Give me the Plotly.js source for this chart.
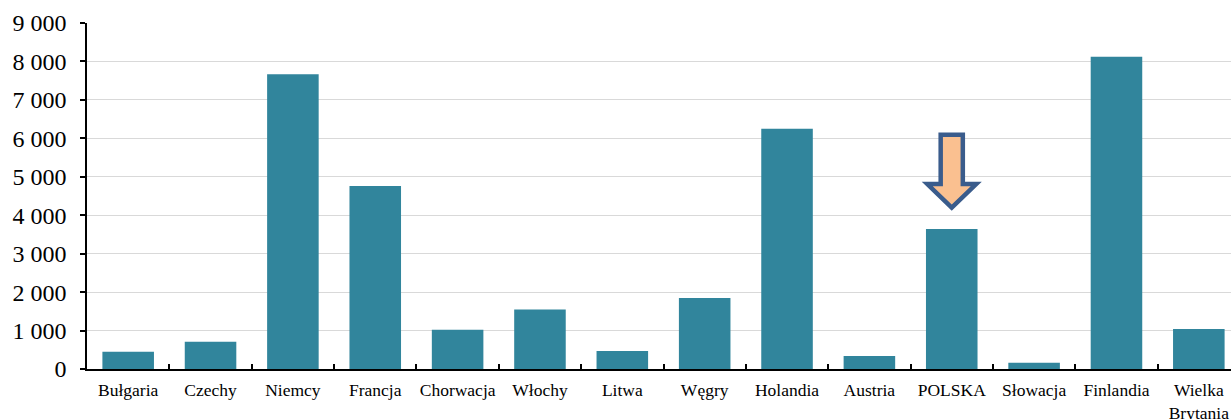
<!DOCTYPE html>
<html><head><meta charset="utf-8">
<script src="https://cdn.plot.ly/plotly-3.0.1.min.js"></script>
<style>html,body{margin:0;padding:0;overflow:hidden;background:#fff}#chart{width:1240px;height:419px}</style>
</head><body><div id="chart"></div>
<script>
const countries = ["Bułgaria","Czechy","Niemcy","Francja","Chorwacja","Włochy","Litwa","Węgry","Holandia","Austria","POLSKA","Słowacja","Finlandia","Wielka<br>Brytania"];
const values = [450, 710, 7670, 4760, 1020, 1550, 470, 1850, 6250, 340, 3640, 160, 8120, 1040];
const yTicks = [0,1000,2000,3000,4000,5000,6000,7000,8000,9000];

const highlightIndex = 10;
const cx = (highlightIndex + 0.5) / countries.length;
const sw = 0.0096, hw = 0.0212;
const yTop = 6090, yShoulder = 4810, yTip = 4200;
const arrowPath = `M ${cx-sw} ${yTop} L ${cx+sw} ${yTop} L ${cx+sw} ${yShoulder} L ${cx+hw} ${yShoulder} L ${cx} ${yTip} L ${cx-hw} ${yShoulder} L ${cx-sw} ${yShoulder} Z`;

Plotly.newPlot('chart', [{
  type: 'bar', x: countries, y: values,
  marker: {color: '#31859C'},
  hoverinfo: 'x+y'
}], {
  width: 1240, height: 419,
  margin: {l: 87, r: 0, t: 23, b: 50},
  bargap: 0.374,
  separators: ', ',
  paper_bgcolor: '#fff', plot_bgcolor: '#fff',
  font: {family: 'Liberation Serif', color: '#000', size: 17.5},
  showlegend: false,
  xaxis: {
    type: 'category', range: [-0.5, 13.5],
    tickfont: {size: 17.5, color: '#000'},
    tickangle: 0,
    showline: true, linecolor: '#000', linewidth: 1.5,
    ticks: 'inside', tickson: 'boundaries', ticklen: 5, tickcolor: '#000', tickwidth: 1.5,
    ticklabelstandoff: 4,
    showgrid: false, zeroline: false, fixedrange: true
  },
  yaxis: {
    range: [0, 9000], tickvals: yTicks, tickformat: ',d',
    tickfont: {size: 24, color: '#000'},
    showline: true, linecolor: '#000', linewidth: 1.5,
    ticks: 'outside', ticklen: 5, tickcolor: '#000', tickwidth: 1.5,
    ticklabelstandoff: 9,
    showgrid: true, gridcolor: '#D9D9D9', gridwidth: 1,
    zeroline: false, fixedrange: true
  },
  shapes: [{
    type: 'path', xref: 'paper', yref: 'y', path: arrowPath,
    fillcolor: '#FAC090', line: {color: '#3A5C8C', width: 4.5}
  }]
}, {displayModeBar: false});
</script></body></html>
